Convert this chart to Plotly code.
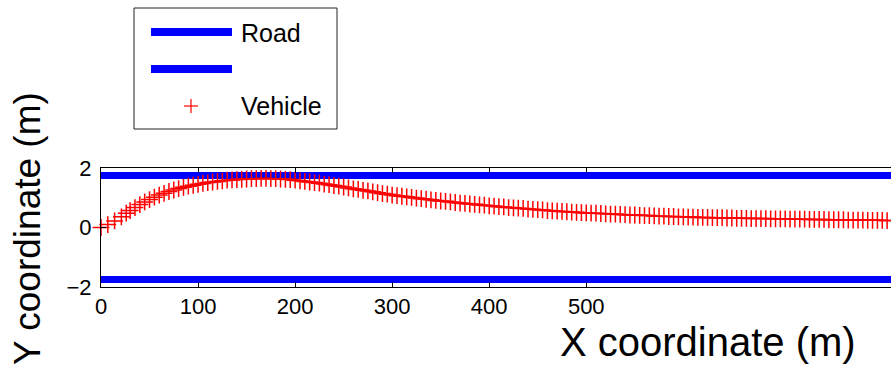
import plotly.graph_objects as go

W, H = 891, 369
L, R, T, B = 101, 891, 168, 287  # plot-area pixel box

# ---- data ----
road_x = [0, 830]
road_upper = [1.75, 1.75]
road_lower = [-1.75, -1.75]

veh_x = [0, 7, 14, 21, 26,
         30, 35, 40, 45, 50, 55, 60, 65, 70, 75, 80, 85, 90, 95, 100,
         105, 110, 115, 120, 125, 130, 135, 140, 145, 150, 155, 160, 165, 170, 175, 180,
         185, 190, 195, 200, 205, 210, 215, 220, 225, 230, 235, 240, 245, 250, 255, 260,
         265, 270, 275, 280, 285, 290, 295, 300, 305, 310, 315, 320, 325, 330, 335, 340,
         345, 350, 355, 360, 365, 370, 375, 380, 385, 390, 395, 400, 405, 410, 415, 420,
         425, 430, 435, 440, 445, 450, 455, 460, 465, 470, 475, 480, 485, 490, 495, 500,
         505, 510, 515, 520, 525, 530, 535, 540, 545, 550, 555, 560, 565, 570, 575, 580,
         585, 590, 595, 600, 605, 610, 615, 620, 625, 630, 635, 640, 645, 650, 655, 660,
         665, 670, 675, 680, 685, 690, 695, 700, 705, 710, 715, 720, 725, 730, 735, 740,
         745, 750, 755, 760, 765, 770, 775, 780, 785, 790, 795, 800, 805, 810, 815, 820]
veh_y = [0.00, 0.10, 0.22, 0.36, 0.48,
         0.57, 0.67, 0.77, 0.86, 0.94, 1.02, 1.09, 1.15, 1.21, 1.26, 1.31, 1.35, 1.39, 1.42, 1.45,
         1.48, 1.51, 1.53, 1.55, 1.57, 1.59, 1.60, 1.61, 1.62, 1.63, 1.64, 1.64, 1.65, 1.65, 1.64, 1.64,
         1.63, 1.62, 1.61, 1.59, 1.57, 1.55, 1.53, 1.51, 1.49, 1.46, 1.44, 1.41, 1.39, 1.36, 1.33, 1.30,
         1.28, 1.25, 1.23, 1.20, 1.17, 1.14, 1.12, 1.09, 1.07, 1.05, 1.03, 1.01, 0.99, 0.97, 0.95, 0.93,
         0.91, 0.89, 0.88, 0.86, 0.84, 0.82, 0.81, 0.79, 0.78, 0.76, 0.75, 0.73, 0.72, 0.70, 0.69, 0.67,
         0.66, 0.65, 0.64, 0.62, 0.61, 0.60, 0.59, 0.57, 0.56, 0.55, 0.54, 0.53, 0.52, 0.51, 0.50, 0.49,
         0.48, 0.48, 0.47, 0.46, 0.45, 0.45, 0.44, 0.43, 0.42, 0.42, 0.41, 0.40, 0.40, 0.39, 0.38, 0.38,
         0.37, 0.37, 0.36, 0.36, 0.35, 0.35, 0.34, 0.34, 0.34, 0.33, 0.33, 0.33, 0.32, 0.32, 0.31, 0.31,
         0.31, 0.30, 0.30, 0.30, 0.30, 0.29, 0.29, 0.29, 0.29, 0.28, 0.28, 0.28, 0.28, 0.27, 0.27, 0.27,
         0.27, 0.26, 0.26, 0.26, 0.26, 0.25, 0.25, 0.25, 0.25, 0.24, 0.24, 0.24, 0.24, 0.23, 0.23, 0.23]

x_ticks = [0, 100, 200, 300, 400, 500]
y_ticks = [-2, 0, 2]
y_tick_text = ["\u22122", "0", "2"]
legend_labels = ["Road", "", "Vehicle"]

FONT = "Liberation Sans, Arial, sans-serif"
BLUE = "#0000FF"
RED = "#FF0000"


def px(p):
    return (p - L) / (R - L)


def py(p):
    return (B - p) / (B - T)


fig = go.Figure()
fig.add_trace(go.Scatter(x=road_x, y=road_upper, mode="lines",
                         line=dict(color=BLUE, width=7), showlegend=False))
fig.add_trace(go.Scatter(x=road_x, y=road_lower, mode="lines",
                         line=dict(color=BLUE, width=7), showlegend=False))
fig.add_trace(go.Scatter(x=veh_x, y=veh_y, mode="markers", cliponaxis=False,
                         marker=dict(symbol="cross-thin", size=12,
                                     line=dict(color=RED, width=1.5)),
                         showlegend=False))

axis_common = dict(showline=True, linecolor="black", linewidth=1, ticks="inside",
                   ticklen=5, tickcolor="black", showgrid=False, zeroline=False,
                   tickfont=dict(family=FONT, size=22, color="black"),
                   layer="above traces")

fig.update_xaxes(range=[0, 814], tickvals=x_ticks, mirror="allticks",
                 ticklabelstandoff=0, **axis_common)
fig.update_yaxes(range=[-2, 2], tickvals=y_ticks, ticktext=y_tick_text, mirror=False,
                 ticklabelstandoff=4, **axis_common)

shapes = []
annotations = []
# legend box
shapes.append(dict(type="rect", xref="paper", yref="paper",
                   x0=px(134), x1=px(337), y0=py(8), y1=py(129),
                   line=dict(color="#222222", width=1), fillcolor="white", layer="above"))
# road legend lines
for yy in (32, 69):
    shapes.append(dict(type="line", xref="paper", yref="paper",
                       x0=px(151), x1=px(232), y0=py(yy), y1=py(yy),
                       line=dict(color=BLUE, width=8), layer="above"))
# vehicle legend marker
shapes.append(dict(type="line", xref="paper", yref="paper",
                   x0=px(184), x1=px(198), y0=py(106), y1=py(106),
                   line=dict(color=RED, width=1.2), layer="above"))
shapes.append(dict(type="line", xref="paper", yref="paper",
                   x0=px(191), x1=px(191), y0=py(99), y1=py(113),
                   line=dict(color=RED, width=1.2), layer="above"))
for lab, yy in zip(legend_labels, (33, 69, 106)):
    if lab:
        annotations.append(dict(text=lab, xref="paper", yref="paper", x=px(239), y=py(yy),
                                xanchor="left", yanchor="middle", showarrow=False,
                                font=dict(family=FONT, size=25, color="black")))
# axis titles
annotations.append(dict(text="X coordinate (m)", xref="paper", yref="paper",
                        x=px(708), y=py(342), xanchor="center", yanchor="middle",
                        showarrow=False, font=dict(family=FONT, size=40, color="black")))
annotations.append(dict(text="Y coordinate (m)", xref="paper", yref="paper",
                        x=px(27), y=py(229), xanchor="center", yanchor="middle",
                        textangle=-90, showarrow=False,
                        font=dict(family=FONT, size=37, color="black")))

fig.update_layout(width=W, height=H, margin=dict(l=L, r=W - R, t=T, b=H - B),
                  paper_bgcolor="white", plot_bgcolor="white",
                  shapes=shapes, annotations=annotations, showlegend=False)

fig.write_html("out.html")
